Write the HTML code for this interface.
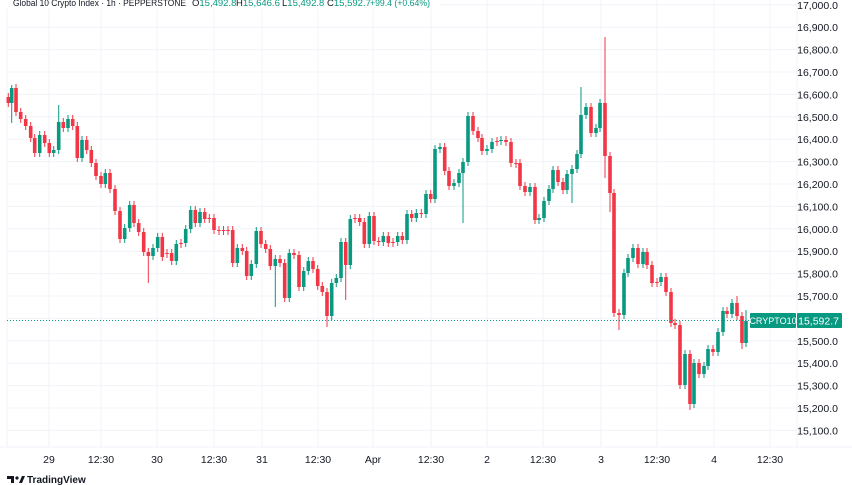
<!DOCTYPE html>
<html><head><meta charset="utf-8"><style>
html,body{margin:0;padding:0;background:#fff;}
svg{display:block;font-family:"Liberation Sans",sans-serif;}
</style></head><body>
<svg id="s" width="852" height="485" xmlns="http://www.w3.org/2000/svg"></svg>
<script>
const s=document.getElementById('s');let h='';
const G='#089981',R='#F23645';
for(let p=15100;p<=17000;p+=100){const y=296+(15700-p)*0.224;h+=`<line x1="7" x2="797" y1="${y}" y2="${y}" stroke="#f0f3fa" stroke-width="1"/>`;
h+=`<text x="838" y="${y+4}" font-size="10.5" fill="#131722" text-anchor="end">${p.toLocaleString('en-US')}.0</text>`;}
const xl=[[49,'29'],[101,'12:30'],[157,'30'],[214,'12:30'],[262,'31'],[318,'12:30'],[373,'Apr'],[431,'12:30'],[487,'2'],[543,'12:30'],[601,'3'],[657,'12:30'],[714,'4'],[770,'12:30']];
for(const [x,t] of xl){h+=`<line x1="${x}" x2="${x}" y1="0" y2="447" stroke="#f0f3fa"/>`;h+=`<text x="${x}" y="463" font-size="10.5" fill="#131722" text-anchor="middle">${t}</text>`;}
h+=`<line x1="7" x2="7" y1="0" y2="447" stroke="#f0f3fa"/>`;
h+=`<line x1="0" x2="852" y1="447" y2="447" stroke="#f0f3fa"/>`;
h+=`<line x1="797" x2="797" y1="0" y2="447" stroke="#f0f3fa"/>`;
const C=[[8.3,97,103],[11.7,103,88,85,123],[16,88,112],[20.7,112,119],[25.7,119,126],[30.7,126,138],[34.7,138,153],[39.7,153,135],[44.7,135,143],[49.3,143,153],[53.7,153,150],[58.7,150,122,105],[63.3,122,128],[68,128,119],[72.7,119,126],[77.3,126,158],[82,158,140],[86.7,140,150],[91.3,150,163],[96,163,176],[101,176,184],[105.3,184,173],[110,173,189],[115,189,211],[120,211,239],[124.7,239,228],[129.7,228,205],[134,205,223],[138.7,223,232],[143.7,232,252],[148.3,252,256,null,283],[153,256,248],[157.7,248,237],[162.3,237,257],[167,253,254],[171.7,253,261],[176.3,261,244],[181,243,244],[185.7,243,229],[190.7,229,210],[195.3,210,223],[200,223,212],[204.7,212,219],[209.3,218,219],[214,218,230],[219,230,231],[223.5,230,231],[228,230,231],
[232.7,230,263],[237.3,263,248],[242.3,248,251],[246.7,251,276],[251.3,276,264],[256.3,264,231],[261,231,244],[265.7,244,249],[270.3,249,266],[275.3,266,259,null,307],[280,259,263],[284.7,263,298],[289.3,298,253],[294,253,255],[299,255,287],[303.7,287,271],[308.3,271,261],[313,261,269],[317.7,269,286],[322.3,286,292],[327,292,316,null,327],[331.7,316,283],[336.3,283,278],[341,278,242],[345.7,242,265,null,300],[350.3,265,219],[355,218,219],[359.7,218,222],[364.3,222,244],[369.3,244,216],[374,216,241],[378.7,241,242],[383.3,242,236],[388.3,236,243],[393,242,243],[397.7,242,236],[402.3,236,240],[407,240,214],[411.7,214,218],[416.3,218,213],[421.3,213,214],[426,214,194],[430.7,194,199],
[435,199,149],[440,149,147],[444.7,147,171],[449,171,186],[454,186,183],[459,183,173],[463,173,162,null,223],[468,162,116],[473,116,131],[478,131,138],[482,138,151],[487,151,149],[492,149,142],[497,141,142],[501,141,140],[506,140,142],[511,142,163],[516,163,164],[520,163,186],[525,186,192],[530,192,187],[535,187,220],[539,220,218],[544,218,201],[549,201,189],[553,189,170],[558,170,182],[563,182,190],[567,190,174],[572,174,169,null,203],[577,169,154],[581,154,115,87],[586,115,107],[591,107,133],[596,133,128],[600,128,103],[605,103,156,37,178],[610,156,193,null,212],
[614,193,313],[619,313,315,null,330],[624,315,273],[628,273,258],[633,258,248],[638,248,264],[643,264,252],[647,252,265],[652,265,283],[657,282,283],[661,282,277],[666,277,292],[671,292,323],[675,323,325],[680,325,385],[685,385,354],[690,354,404,null,410],[694,404,363],[699,363,374],[704,374,366],[708,366,349],[713,349,352],[718,352,332],[723,332,311],[727,311,314],[732,314,303,null,null],[737,303,316,296],[742,316,343,null,349],[746,343,321,310]];
for(const c of C){const [x,o,cl]=c;const col=cl<o?G:R;const top=Math.min(o,cl),bot=Math.max(o,cl);
const hi=c[3]!=null?c[3]:top-4,lo=c[4]!=null?c[4]:bot+4;
h+=`<line x1="${x}" x2="${x}" y1="${hi}" y2="${lo}" stroke="${col}" stroke-width="1"/>`;
h+=`<rect x="${x-1.8}" y="${top}" width="3.6" height="${Math.max(bot-top,1)}" fill="${col}"/>`;}
h+=`<line x1="7" x2="750" y1="320.5" y2="320.5" stroke="${G}" stroke-width="1" stroke-dasharray="1,2"/>`;
h+=`<rect x="750" y="313" width="46" height="15" fill="${G}" rx="1"/><text x="773" y="324" font-size="9" fill="#fff" text-anchor="middle">CRYPTO10</text>`;
h+=`<rect x="797" y="313" width="45" height="15" fill="${G}" rx="1"/><text x="839" y="324.5" font-size="10.5" fill="#fff" text-anchor="end">15,592.7</text>`;
h+=`<rect x="0" y="0" width="440" height="9" fill="#fff"/>`;
h+=`<text x="13" y="6" font-size="9.5" fill="#131722" textLength="173" lengthAdjust="spacingAndGlyphs">Global 10 Crypto Index · 1h · PEPPERSTONE</text>`;
h+=`<text x="192" y="6" font-size="9.5" fill="#131722">O<tspan fill="${G}">15,492.8</tspan></text>`;
h+=`<text x="236" y="6" font-size="9.5" fill="#131722">H<tspan fill="${G}">15,646.6</tspan></text>`;
h+=`<text x="282" y="6" font-size="9.5" fill="#131722">L<tspan fill="${G}">15,492.8</tspan></text>`;
h+=`<text x="327" y="6" font-size="9.5" fill="#131722">C<tspan fill="${G}">15,592.7</tspan></text>`;
h+=`<text x="370" y="6" font-size="9.5" fill="${G}" textLength="60" lengthAdjust="spacingAndGlyphs">+99.4 (+0.64%)</text>`;
h+=`<path d="M7 476h7v7h-3v-4h-4z" fill="#131722"/><circle cx="17" cy="478" r="1.6" fill="#131722"/><path d="M19 483l3-7h3l-3 7z" fill="#131722"/>`;
h+=`<text x="27" y="483" font-size="10" font-weight="bold" fill="#131722">TradingView</text>`;
s.innerHTML=h;
</script>
</body></html>
